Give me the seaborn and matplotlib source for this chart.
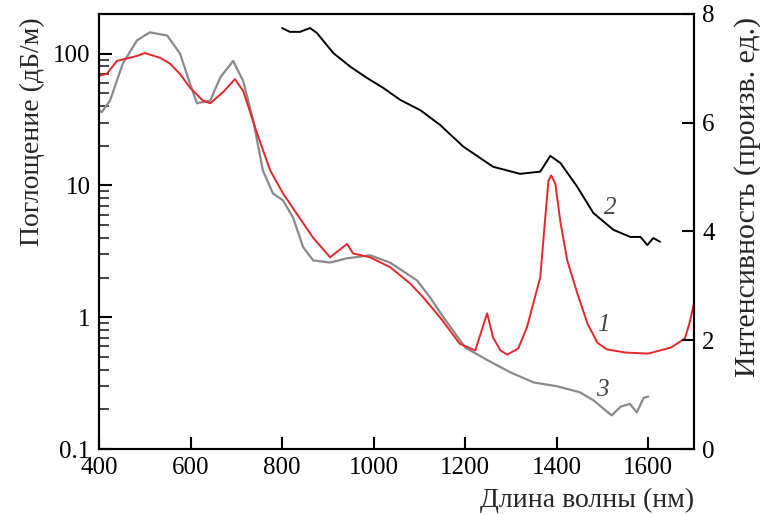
import numpy as np
import pandas as pd
import matplotlib.pyplot as plt
import seaborn as sns
from matplotlib.ticker import LogLocator, FixedLocator, NullFormatter

sns.set_theme(style="ticks")
plt.rcParams['font.family'] = ['Liberation Serif', 'DejaVu Serif']

# Curve 1 (red): absorption, dB/m (left log axis)
wl_1 = [400, 417, 439, 483, 500, 533, 555, 577, 599, 627, 643, 671, 697, 715, 745,
        774, 802, 832, 868, 905, 942, 955, 992, 1036, 1080, 1108, 1150, 1188, 1222,
        1248, 1261, 1277, 1292, 1316, 1335, 1349, 1364, 1375, 1382, 1388, 1397, 1408,
        1423, 1445, 1467, 1489, 1510, 1550, 1600, 1650, 1680, 1690, 1700]
abs_1 = [68, 70, 88, 96, 101, 93, 84, 70, 55, 44, 42, 51, 64, 52, 25,
         13, 8.7, 6.1, 4.0, 2.85, 3.6, 3.05, 2.85, 2.4, 1.8, 1.42, 0.95, 0.63, 0.56,
         1.07, 0.70, 0.56, 0.52, 0.58, 0.84, 1.28, 2.0, 5.7, 10.9, 11.9, 10.3, 5.3,
         2.7, 1.52, 0.9, 0.64, 0.57, 0.54, 0.53, 0.59, 0.69, 0.9, 1.28]

# Curve 3 (gray): absorption, dB/m (left log axis)
wl_3 = [400, 406, 424, 452, 483, 511, 549, 577, 599, 614, 643, 665, 693, 715, 737,
        758, 780, 802, 824, 846, 868, 905, 942, 992, 1036, 1095, 1123, 1150, 1200,
        1250, 1300, 1350, 1400, 1450, 1480, 1520, 1540, 1560, 1575, 1590, 1600]
abs_3 = [37, 36, 44, 84, 126, 145, 137, 100, 59, 42, 44, 66, 88, 62, 31,
         13, 8.7, 7.7, 5.7, 3.4, 2.7, 2.6, 2.8, 2.95, 2.6, 1.9, 1.42, 1.03, 0.59,
         0.47, 0.38, 0.32, 0.30, 0.27, 0.235, 0.18, 0.21, 0.22, 0.19, 0.245, 0.25]

# Curve 2 (black): intensity, arb. units (right axis)
wl_2 = [800, 817, 839, 861, 876, 912, 949, 986, 1021, 1058, 1102, 1145, 1196, 1261,
        1320, 1364, 1386, 1408, 1445, 1480, 1524, 1561, 1583, 1598, 1611, 1626]
int_2 = [7.74, 7.67, 7.67, 7.74, 7.65, 7.28, 7.03, 6.82, 6.64, 6.42, 6.23, 5.96, 5.56, 5.19,
         5.06, 5.1, 5.39, 5.26, 4.82, 4.34, 4.03, 3.9, 3.9, 3.75, 3.88, 3.81]

df1 = pd.DataFrame({"wl": wl_1, "val": abs_1})
df3 = pd.DataFrame({"wl": wl_3, "val": abs_3})
df2 = pd.DataFrame({"wl": wl_2, "val": int_2})

fig = plt.figure(figsize=(7.64, 5.15), dpi=100)
ax = fig.add_axes([0.1296, 0.128, 0.7788, 0.845])

sns.lineplot(data=df3, x="wl", y="val", ax=ax, color="#8a8a8a", lw=1.6)
sns.lineplot(data=df1, x="wl", y="val", ax=ax, color="#e8262a", lw=1.4)
ax.set_yscale("log")
ax.set_xlim(400, 1700)
ax.set_ylim(0.1, 200)
ax.set_xticks([400, 600, 800, 1000, 1200, 1400, 1600])
ax.yaxis.set_major_locator(FixedLocator([0.1, 1, 10, 100]))
ax.set_yticklabels(["0.1", "1", "10", "100"])
ax.yaxis.set_minor_locator(LogLocator(base=10, subs=np.arange(2, 10)))
ax.yaxis.set_minor_formatter(NullFormatter())

ax2 = ax.twinx()
sns.lineplot(data=df2, x="wl", y="val", ax=ax2, color="black", lw=1.4)
ax2.set_ylim(0, 8)
ax2.set_yticks([0, 2, 4, 6, 8])

for a in (ax, ax2):
    for s in a.spines.values():
        s.set_color("black")
        s.set_linewidth(1.5)
ax.tick_params(axis="both", which="major", direction="in", length=9, width=1.5,
               labelsize=18, colors="black", top=False, right=False, pad=6)
ax.tick_params(axis="y", which="minor", direction="in", length=7, width=1.2)
ax2.tick_params(axis="y", which="major", direction="in", length=9, width=1.5,
                labelsize=18, colors="black", pad=6)

ax.set_xlabel("Длина волны (нм)", fontsize=20, ha="right", x=1.0, labelpad=6)
ax.set_ylabel("Поглощение (дБ/м)", fontsize=20, y=0.73, labelpad=6)
ax2.set_ylabel("Интенсивность (произв. ед.)", fontsize=21.5, y=0.579, labelpad=14)

lbl = dict(fontsize=18, style="italic", color="#444444", ha="center", va="center")
ax2.text(1517, 4.43, "2", **lbl)
ax2.text(1502, 2.28, "1", **lbl)
ax2.text(1500, 1.08, "3", **lbl)

fig.savefig("out.png", dpi=100)
